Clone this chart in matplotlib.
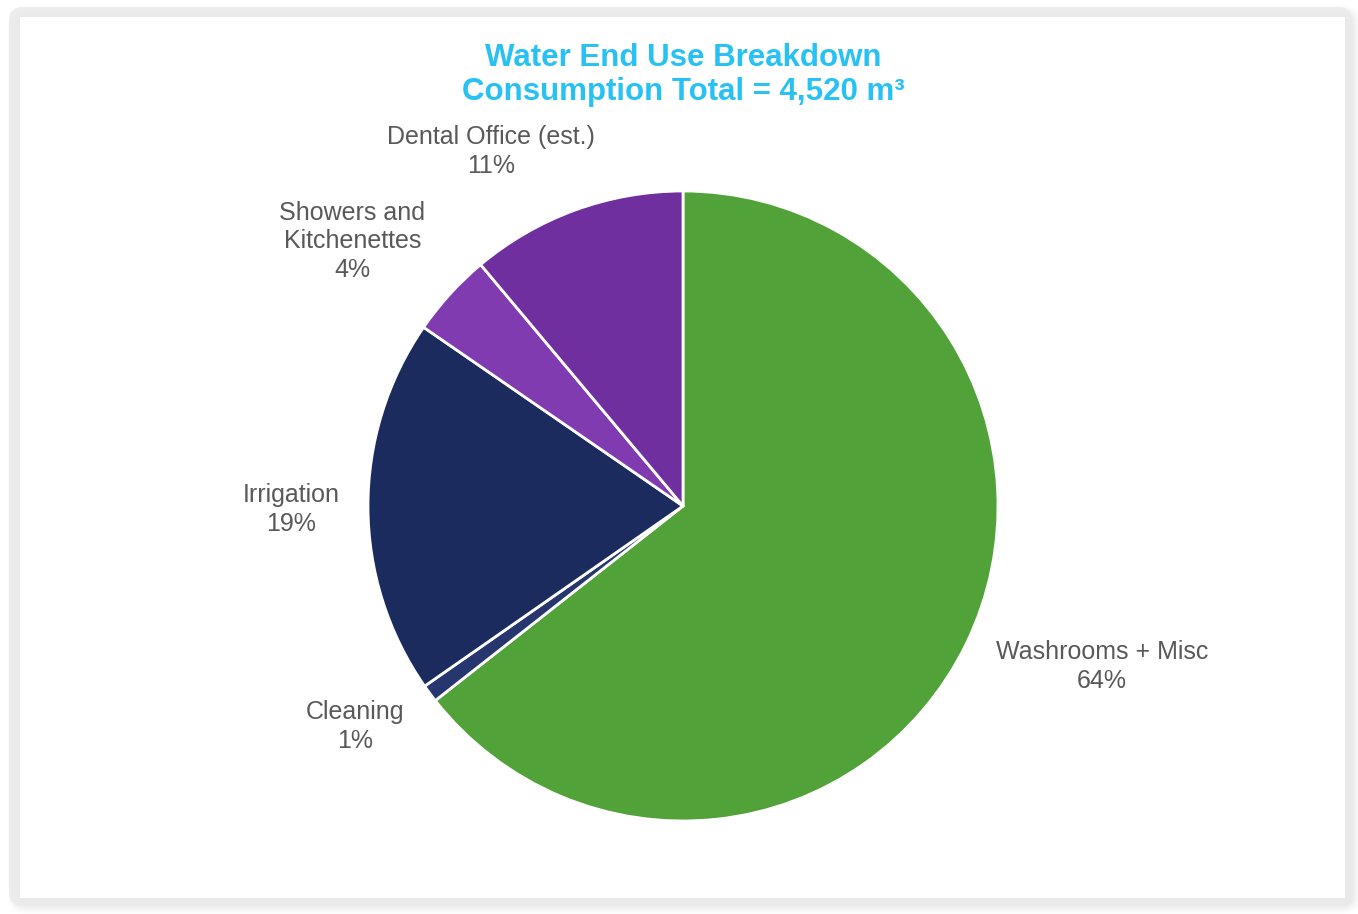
import numpy as np
import matplotlib
matplotlib.use('Agg')
import matplotlib.pyplot as plt
from matplotlib.patches import FancyBboxPatch

plt.rcParams['font.family'] = ['Liberation Sans', 'DejaVu Sans']

# water use by category, m3
categories = ['Washrooms + Misc', 'Cleaning', 'Irrigation',
              'Showers and\nKitchenettes', 'Dental Office (est.)']
volumes = [2911, 41, 872, 194, 502]
colors = ['#52A23A', '#27366F', '#1C2B5E', '#813BB0', '#6F2F9E']

# where each label sits, in pie-radius units
label_xy = [(1.33, -0.51), (-1.04, -0.70), (-1.245, -0.01),
            (-1.05, 0.84), (-0.61, 1.125)]

W, H = 1358, 914
fig = plt.figure(figsize=(W / 100, H / 100), dpi=100)
fig.patch.set_facecolor('white')

# soft grey frame around the chart
bg = fig.add_axes([0, 0, 1, 1])
bg.set_xlim(0, W)
bg.set_ylim(H, 0)
bg.axis('off')
for i, a in enumerate(np.linspace(0.05, 0.5, 8)):
    pad = 16 - i * 1.8
    bg.add_patch(FancyBboxPatch((20 - pad + 3, 17 - pad + 3),
                                1325 + 2 * pad - 2, 881 + 2 * pad - 2,
                                boxstyle='round,pad=0,rounding_size=%.1f' % (pad + 4),
                                fc='#CFCFCF', ec='none', alpha=a * 0.4))
bg.add_patch(FancyBboxPatch((9, 7), 1343, 899,
                            boxstyle='round,pad=0,rounding_size=14',
                            fc='#EBEBEB', ec='none', alpha=0.9))
bg.add_patch(FancyBboxPatch((20, 17), 1325, 881,
                            boxstyle='square,pad=0', fc='white', ec='none'))

# pie
cx, cy, r = 683, 506, 315
ax = fig.add_axes([(cx - r) / W, 1 - (cy + r) / H, 2 * r / W, 2 * r / H])
wedges, texts = ax.pie(volumes, colors=colors, startangle=90, counterclock=False,
                       labels=['%s\n%d%%' % (c, round(v / sum(volumes) * 100))
                               for c, v in zip(categories, volumes)],
                       wedgeprops=dict(edgecolor='white', linewidth=2),
                       textprops=dict(fontsize=18, color='#595959'))
for t, xy in zip(texts, label_xy):
    t.set_position(xy)
    t.set_ha('center')
    t.set_va('center')
    t.set_multialignment('center')
    t.set_linespacing(1.25)
ax.set_xlim(-1, 1)
ax.set_ylim(-1, 1)
ax.set_aspect('equal')

fig.text(cx / W, 1 - 75 / H,
         'Water End Use Breakdown\nConsumption Total = %s m\u00b3' % format(sum(volumes), ','),
         ha='center', va='center', fontsize=22.5, fontweight='bold', color='#27C1F4',
         linespacing=1.2)

fig.savefig('out.png', dpi=100)
